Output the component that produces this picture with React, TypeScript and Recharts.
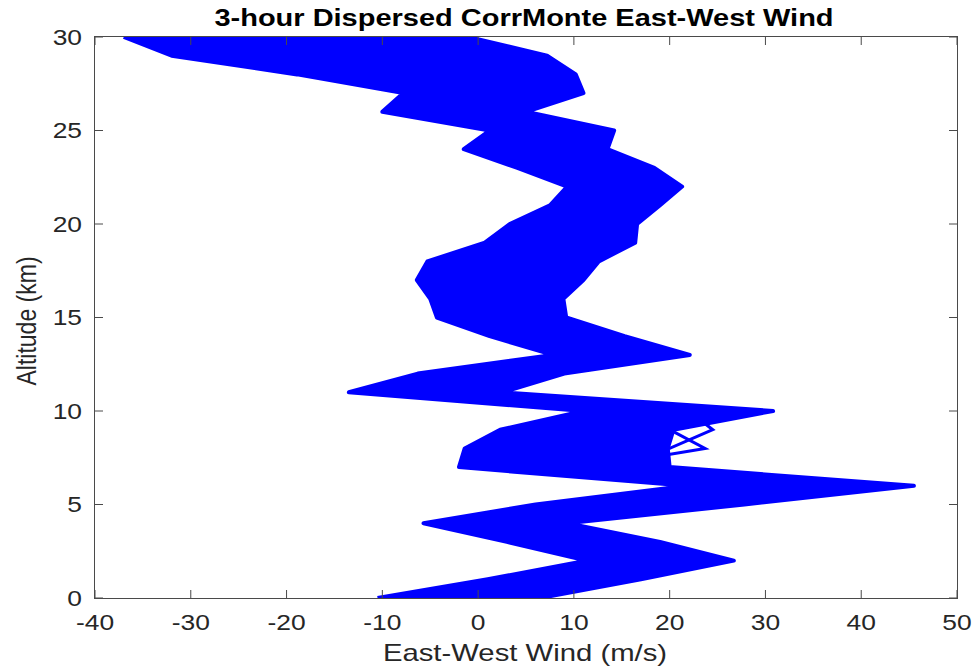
import React from 'react';
import { ComposedChart, Area, Line, XAxis, YAxis } from 'recharts';

// Altitude levels (km)
const altitudes = [0, 1, 2, 3, 4, 5, 6, 7, 8, 9, 10, 11, 12, 13, 14, 15, 16, 17, 18, 19, 20, 21, 22, 23, 24, 25, 26, 27, 28, 29, 30];

// Westmost (minimum) wind across the dispersed profiles at each altitude (m/s)
const westEdge = [-10.5, 1.0, 11.3, 3.0, -5.7, 6.0, 21.8, -2.0, -1.4, 2.3, 11.0, -13.5, -6.3, 7.8, 1.2, -4.3, -5.0, -6.4, -5.3, 0.7, 3.3, 7.5, 9.3, 4.1, -1.5, 1.2, -10.0, -7.8, -18.9, -32.0, -37.0];

// Eastmost (maximum) wind across the dispersed profiles at each altitude (m/s)
const eastEdge = [6.5, 17.0, 26.7, 19.0, 9.3, 27.8, 45.5, 20.0, 19.8, 20.4, 30.8, 2.6, 9.0, 22.1, 15.3, 9.2, 8.9, 11.0, 12.6, 16.4, 16.6, 19.0, 21.3, 18.4, 13.5, 14.2, 5.0, 11.0, 10.2, 7.2, -1.0];

// Two individual dispersed profiles that stray from the bundle near 8-9 km
const profileA = [-2, 8, 18, 12, 2, 16, 33, 9, 20, 24.5, 22, -5, 1, 15, 8, 2, 2, 3, 4, 8, 10, 13, 15, 11, 6, 8, -2, 2, -4, -12, -18];
const profileB = [2, 10, 20, 14, 4, 18, 36, 12, 23.7, 20, 25, -3, 3, 17, 10, 4, 3, 5, 6, 10, 11, 14, 16, 13, 8, 9, 0, 4, -2, -8, -14];

const xTicks = [-40, -30, -20, -10, 0, 10, 20, 30, 40, 50];
const yTicks = [0, 5, 10, 15, 20, 25, 30];
const xDomain = [-40, 50];
const yDomain = [0, 30];

const data = altitudes.map((alt, i) => ({
  alt,
  band: [westEdge[i], eastEdge[i]],
  a: profileA[i],
  b: profileB[i],
}));

const FONT = '"Liberation Sans", Arial, Helvetica, sans-serif';
const TEXT = '#262626';
const AXIS = '#4a4a4a';
const BLUE = '#0000ff';
const SX = 1.2;
const TICK = 8;
const BOTTOM_GAP = 16;
const LEFT_GAP = 13;

const XTick = (props: any) => {
  const { x, y, payload } = props;
  const axisY = y - BOTTOM_GAP;
  return (
    <g>
      <path d={`M${x},${axisY}L${x},${axisY - TICK}`} stroke={AXIS} strokeWidth={1} fill="none" />
      <g transform={`translate(${x},${y}) scale(${SX},1)`}>
        <text x={0} y={0} dy="0.72em" textAnchor="middle" fontSize={22} fontFamily={FONT} fill={TEXT}>
          {payload.value}
        </text>
      </g>
    </g>
  );
};

const YTick = (props: any) => {
  const { x, y, payload } = props;
  const axisX = x + LEFT_GAP;
  return (
    <g>
      <path d={`M${axisX},${y}L${axisX + TICK},${y}`} stroke={AXIS} strokeWidth={1} fill="none" />
      <g transform={`translate(${x},${y}) scale(${SX},1)`}>
        <text x={0} y={0} dy="0.36em" textAnchor="end" fontSize={22} fontFamily={FONT} fill={TEXT}>
          {payload.value}
        </text>
      </g>
    </g>
  );
};

const TopTick = (props: any) => {
  const { x, y } = props;
  return <path d={`M${x},${y}L${x},${y + TICK}`} stroke={AXIS} strokeWidth={1} fill="none" />;
};

const RightTick = (props: any) => {
  const { x, y } = props;
  return <path d={`M${x},${y}L${x - TICK},${y}`} stroke={AXIS} strokeWidth={1} fill="none" />;
};

export default function App() {
  return (
    <div style={{ position: 'absolute', left: 0, top: 0, width: 977, height: 669 }}>
      <ComposedChart
        width={977}
        height={669}
        data={data}
        layout="vertical"
        margin={{ top: 36, right: 19, bottom: 0, left: 0 }}
      >
        <XAxis
          xAxisId={0}
          type="number"
          domain={xDomain}
          ticks={xTicks}
          allowDataOverflow
          height={71}
          axisLine={false}
          tickLine={false}
          tickSize={0}
          tickMargin={BOTTOM_GAP}
          tick={XTick}
        />
        <XAxis
          xAxisId="top"
          orientation="top"
          type="number"
          domain={xDomain}
          ticks={xTicks}
          allowDataOverflow
          height={1}
          axisLine={false}
          tickLine={false}
          tickSize={0}
          tickMargin={0}
          tick={TopTick}
        />
        <YAxis
          yAxisId={0}
          type="number"
          dataKey="alt"
          domain={yDomain}
          ticks={yTicks}
          reversed
          allowDataOverflow
          width={95}
          axisLine={false}
          tickLine={false}
          tickSize={0}
          tickMargin={LEFT_GAP}
          tick={YTick}
        />
        <YAxis
          yAxisId="right"
          orientation="right"
          type="number"
          dataKey="alt"
          domain={yDomain}
          ticks={yTicks}
          reversed
          allowDataOverflow
          width={1}
          axisLine={false}
          tickLine={false}
          tickSize={0}
          tickMargin={0}
          tick={RightTick}
        />
        <Area
          xAxisId={0}
          yAxisId={0}
          type="linear"
          dataKey="band"
          stroke={BLUE}
          strokeWidth={4}
          strokeLinejoin="round"
          fill={BLUE}
          fillOpacity={1}
          isAnimationActive={false}
          dot={false}
          activeDot={false}
        />
        <Line xAxisId={0} yAxisId={0} type="linear" dataKey="a" stroke={BLUE} strokeWidth={3} dot={false} activeDot={false} isAnimationActive={false} />
        <Line xAxisId={0} yAxisId={0} type="linear" dataKey="b" stroke={BLUE} strokeWidth={3} dot={false} activeDot={false} isAnimationActive={false} />
      </ComposedChart>
      <div
        style={{
          position: 'absolute', left: 94, top: 36, width: 862, height: 561,
          border: `1px solid ${AXIS}`, pointerEvents: 'none',
        }}
      />
      <div
        style={{
          position: 'absolute', left: 524, top: 18, transform: 'translate(-50%,-50%) scaleX(1.26)',
          fontFamily: FONT, fontWeight: 'bold', fontSize: 23, color: '#000', whiteSpace: 'nowrap', lineHeight: 1,
        }}
      >
        3-hour Dispersed CorrMonte East-West Wind
      </div>
      <div
        style={{
          position: 'absolute', left: 525, top: 653, transform: 'translate(-50%,-50%) scaleX(1.22)',
          fontFamily: FONT, fontSize: 24, color: TEXT, whiteSpace: 'nowrap', lineHeight: 1,
        }}
      >
        East-West Wind (m/s)
      </div>
      <div
        style={{
          position: 'absolute', left: 27, top: 321, transform: 'translate(-50%,-50%) rotate(-90deg) scale(1,1.22)',
          fontFamily: FONT, fontSize: 23, color: TEXT, whiteSpace: 'nowrap', lineHeight: 1,
        }}
      >
        Altitude (km)
      </div>
    </div>
  );
}
